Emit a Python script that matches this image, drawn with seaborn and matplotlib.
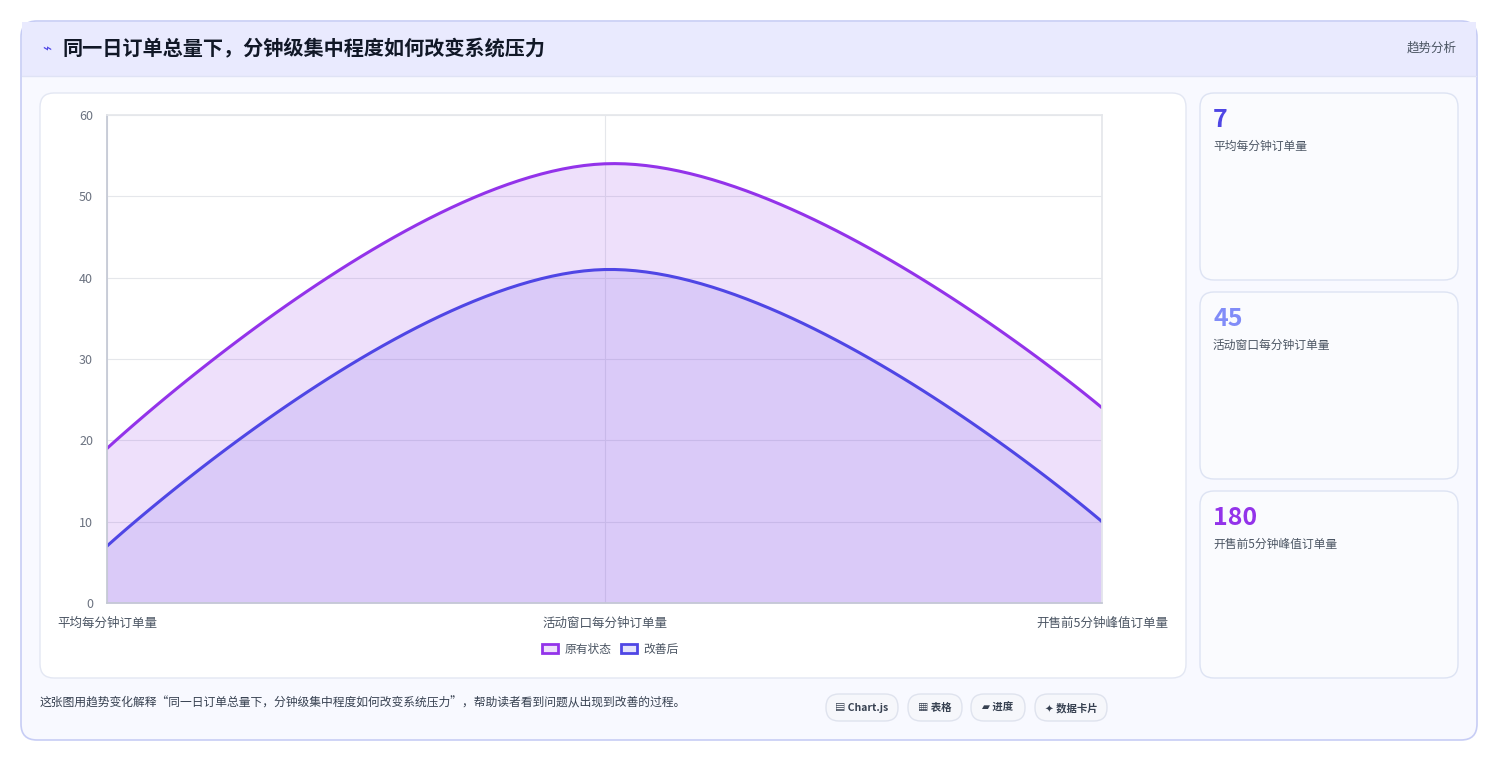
import numpy as np
import matplotlib
matplotlib.use("Agg")
import matplotlib.pyplot as plt
from matplotlib.patches import FancyBboxPatch, Rectangle
import seaborn as sns
import pandas as pd

categories = ["平均每分钟订单量", "活动窗口每分钟订单量", "开售前5分钟峰值订单量"]
original = [19, 54, 24]
improved = [7, 41, 10]
series_names = ["原有状态", "改善后"]
card_values = ["7", "45", "180"]
card_labels = ["平均每分钟订单量", "活动窗口每分钟订单量", "开售前5分钟峰值订单量"]
card_colors = ["#4f46e5", "#818cf8", "#9333ea"]

sns.set_theme(style="white")
plt.rcParams['font.family'] = ['Noto Sans CJK SC', 'DejaVu Sans']

W, H = 1498, 761
fig = plt.figure(figsize=(W/100, H/100), dpi=100)
fig.patch.set_facecolor("white")

def box(x, y, w, h, fc, ec, r=12, lw=1, z=0):
    p = FancyBboxPatch((x/W, 1-(y+h)/H), w/W, h/H,
                       boxstyle=f"round,pad=0,rounding_size={r/W}",
                       transform=fig.transFigure, fc=fc, ec=ec, lw=lw, zorder=z,
                       mutation_aspect=W/H)
    fig.add_artist(p)

# outer card
box(21, 21, 1456, 719, "#f8f9ff", "#c7cdf5", r=16, lw=1.2)
# header band
fig.add_artist(Rectangle((22/W, 1-76/H), 1454/W, 54/H, transform=fig.transFigure,
                         fc="#e9eafe", ec="none", zorder=0.5))
fig.add_artist(plt.Line2D([22/W, 1476/W], [1-76/H]*2, color="#dfe3f5", lw=1, transform=fig.transFigure))
fig.text(42/W, 1-49/H, "⌁", color="#4f46e5", fontsize=11, va="center", family=['DejaVu Sans'])
fig.text(62/W, 1-49/H, "同一日订单总量下，分钟级集中程度如何改变系统压力", fontsize=14.5,
         fontweight="bold", color="#111827", va="center")
fig.text(1457/W, 1-48/H, "趋势分析", fontsize=9, color="#4b5563", va="center", ha="right")

# chart panel
box(40, 93, 1146, 585, "white", "#e3e7f3", r=14)
# cards
for i, (v, l, c) in enumerate(zip(card_values, card_labels, card_colors)):
    y0 = 93 + i*199
    box(1200, y0, 258, 187, "#fafbfe", "#dde3f3", r=14)
    fig.text(1213/W, 1-(y0+27)/H, v, fontsize=18, fontweight="bold", color=c, va="center")
    fig.text(1213/W, 1-(y0+53)/H, l, fontsize=8.5, color="#4b5563", va="center")

# footer
fig.text(40/W, 1-703/H, "这张图用趋势变化解释“同一日订单总量下，分钟级集中程度如何改变系统压力”，帮助读者看到问题从出现到改善的过程。",
         fontsize=8.5, color="#374151", va="center")
chips = [("▤ Chart.js", 826, 72), ("▦ 表格", 908, 54), ("▰ 进度", 971, 54), ("✦ 数据卡片", 1035, 72)]
for t, x, w in chips:
    box(x, 694, w, 27, "#f6f7fb", "#dfe3ee", r=13)
    fig.text((x+w/2)/W, 1-708/H, t, fontsize=7.5, fontweight="bold", color="#374151",
             ha="center", va="center", family=['Noto Sans CJK SC', 'DejaVu Sans'])

# main axes
ax = fig.add_axes([107/W, 1-603/H, 995/W, 488/H])
ax.set_facecolor("white")

def spline(vals, tension=0.4, n=60):
    xs, ys = [], []
    pts = np.array([[i, v] for i, v in enumerate(vals)], float)
    m = len(pts)
    cps = []
    for i in range(m):
        prev = pts[max(i-1, 0)]; nxt = pts[min(i+1, m-1)]
        if i == 0 or i == m-1:
            cps.append((pts[i], pts[i]))
        else:
            d = (nxt - prev) * tension * 0.5
            cps.append((pts[i]-d, pts[i]+d))
    t = np.linspace(0, 1, n)[:, None]
    for i in range(m-1):
        p0, p3 = pts[i], pts[i+1]
        p1, p2 = cps[i][1], cps[i+1][0]
        b = (1-t)**3*p0 + 3*(1-t)**2*t*p1 + 3*(1-t)*t**2*p2 + t**3*p3
        xs.extend(b[:, 0]); ys.extend(b[:, 1])
    return np.array(xs), np.array(ys)

colors = ["#9333ea", "#4f46e5"]
fills = ["#9333ea", "#6d4ee8"]
rows = []
for name, vals in zip(series_names, [original, improved]):
    sx, sy = spline(vals)
    rows += [{"x": a, "y": b, "s": name} for a, b in zip(sx, sy)]
df = pd.DataFrame(rows)
sns.lineplot(data=df, x="x", y="y", hue="s", palette=dict(zip(series_names, colors)),
             lw=2.2, ax=ax, legend=False, sort=False, estimator=None)
for name, fc, a in zip(series_names, fills, [0.15, 0.15]):
    d = df[df.s == name]
    ax.fill_between(d.x, 0, d.y, color=fc, alpha=a, lw=0)

ax.set_xlim(0, 2); ax.set_ylim(0, 60)
ax.set_yticks(range(0, 61, 10))
ax.set_xticks([0, 1, 2])
ax.set_xticklabels(categories)
ax.set_xlabel(""); ax.set_ylabel("")
ax.grid(True, color="#e5e7eb", lw=0.8)
ax.tick_params(axis="y", labelsize=9, labelcolor="#6b7280", length=0, pad=10)
ax.tick_params(axis="x", labelsize=9, labelcolor="#4b5563", length=0, pad=10)
for s in ax.spines.values():
    s.set_color("#e5e7eb")
ax.spines["left"].set_color("#c4c8d4")
ax.spines["bottom"].set_color("#c4c8d4")

# legend
from matplotlib.patches import Patch
handles = [Patch(fc=c+"26", ec=c, lw=2) for c in colors]
fig.legend(handles, series_names, loc="center", bbox_to_anchor=(610/W, 1-649/H), ncol=2,
           frameon=False, fontsize=8.5, handlelength=1.4, handleheight=0.9, columnspacing=0.8,
           handletextpad=0.5, labelcolor="#4b5563")

fig.savefig("out.png", dpi=100)
